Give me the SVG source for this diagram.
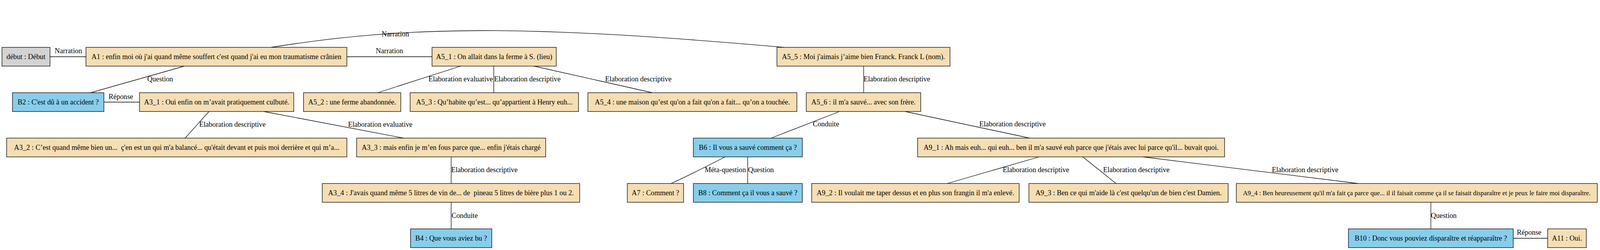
<svg xmlns="http://www.w3.org/2000/svg" width="4166" height="639" viewBox="0 0 4166 639">
<style>
.n rect{stroke:#000;stroke-width:1.3}
.a rect{fill:#f5deb3}
.b rect{fill:#87ceeb}
.g rect{fill:#d3d3d3}
text{font-family:"Liberation Serif","Times New Roman",serif;font-size:18.3px;fill:#000}
.n text{text-anchor:middle}
#edges path,#edges line{stroke:#000;stroke-width:1.3;fill:none}
</style>
<rect width="4166" height="639" fill="#fff"/>
<g id="edges">
<line x1="128" y1="145" x2="220" y2="145"/>
<text x="140" y="136">Narration</text>
<line x1="472" y1="169" x2="232" y2="237"/>
<text x="377" y="208">Question</text>
<line x1="888" y1="145" x2="1106" y2="145"/>
<text x="962" y="136">Narration</text>
<path d="M694,121 C1052,64 1354,64 2007,121"/>
<text x="977" y="93">Narration</text>
<line x1="266" y1="261" x2="357" y2="261"/>
<text x="278" y="253">Réponse</text>
<line x1="535" y1="285" x2="474" y2="353"/>
<text x="510" y="324">Elaboration descriptive</text>
<line x1="675" y1="285" x2="1033" y2="353"/>
<text x="891" y="324">Elaboration evaluative</text>
<line x1="1155" y1="401" x2="1155" y2="469"/>
<text x="1155" y="440">Elaboration descriptive</text>
<line x1="1155" y1="517" x2="1155" y2="585"/>
<text x="1156" y="557">Conduite</text>
<line x1="1179" y1="169" x2="967" y2="237"/>
<text x="1097" y="208">Elaboration evaluative</text>
<line x1="1264" y1="169" x2="1264" y2="237"/>
<text x="1265" y="208">Elaboration descriptive</text>
<line x1="1367" y1="169" x2="1670" y2="237"/>
<text x="1549" y="208">Elaboration descriptive</text>
<line x1="2211" y1="169" x2="2211" y2="237"/>
<text x="2211" y="208">Elaboration descriptive</text>
<line x1="2149" y1="285" x2="1974" y2="353"/>
<text x="2081" y="323">Conduite</text>
<line x1="2317" y1="285" x2="2636" y2="353"/>
<text x="2507" y="323">Elaboration descriptive</text>
<path d="M1856,401 C1800,430 1760,450 1718,469"/>
<text x="1804" y="440">Méta-question</text>
<line x1="1914" y1="401" x2="1914" y2="469"/>
<text x="1915" y="440">Question</text>
<line x1="2660" y1="401" x2="2425" y2="469"/>
<text x="2567" y="440">Elaboration descriptive</text>
<line x1="2772" y1="401" x2="2857" y2="469"/>
<text x="2824" y="440">Elaboration descriptive</text>
<line x1="2926" y1="401" x2="3477" y2="469"/>
<text x="3256" y="440">Elaboration descriptive</text>
<line x1="3663" y1="517" x2="3663" y2="585"/>
<text x="3663" y="557">Question</text>
<line x1="3874" y1="609" x2="3962" y2="609"/>
<text x="3883" y="600">Réponse</text>
</g>
<g id="debut" class="n g"><rect x="5" y="121" width="123" height="48"/><text x="66.5" y="151">début : Début</text></g>
<g id="A1" class="n a"><rect x="220" y="121" width="668" height="48"/><text x="554" y="151">A1 : enfin moi où j'ai quand même souffert c'est quand j'ai eu mon traumatisme crânien</text></g>
<g id="A5_1" class="n a"><rect x="1106" y="121" width="318" height="48"/><text x="1265" y="151">A5_1 : On allait dans la ferme à S. (lieu)</text></g>
<g id="A5_5" class="n a"><rect x="1989" y="121" width="443" height="48"/><text x="2210.5" y="151">A5_5 : Moi j'aimais j’aime bien Franck. Franck L (nom).</text></g>
<g id="B2" class="n b"><rect x="32" y="237" width="234" height="48"/><text x="149" y="267">B2 : C'est dû à un accident ?</text></g>
<g id="A3_1" class="n a"><rect x="357" y="237" width="395" height="48"/><text x="554.5" y="267">A3_1 : Oui enfin on m’avait pratiquement culbuté.</text></g>
<g id="A5_2" class="n a"><rect x="777" y="237" width="249" height="48"/><text x="901.5" y="267">A5_2 : une ferme abandonnée.</text></g>
<g id="A5_3" class="n a"><rect x="1050" y="237" width="431" height="48"/><text x="1265.5" y="267">A5_3 : Qu’habite qu’est... qu’appartient à Henry euh...</text></g>
<g id="A5_4" class="n a"><rect x="1505" y="237" width="535" height="48"/><text x="1772.5" y="267">A5_4 : une maison qu’est qu'on a fait qu'on a fait... qu’on a touchée.</text></g>
<g id="A5_6" class="n a"><rect x="2064" y="237" width="293" height="48"/><text x="2210.5" y="267">A5_6 : il m'a sauvé... avec son frère.</text></g>
<g id="A3_2" class="n a"><rect x="17" y="353" width="871" height="48"/><text x="452.5" y="383" xml:space="preserve">A3_2 : C’est quand même bien un...  ç'en est un qui m'a balancé... qu'était devant et puis moi derrière et qui m’a...</text></g>
<g id="A3_3" class="n a"><rect x="913" y="353" width="484" height="48"/><text x="1155" y="383">A3_3 : mais enfin je m’en fous parce que... enfin j'étais chargé</text></g>
<g id="B6" class="n b"><rect x="1775" y="353" width="279" height="48"/><text x="1914.5" y="383">B6 : Il vous a sauvé comment ça ?</text></g>
<g id="A9_1" class="n a"><rect x="2349" y="353" width="786" height="48"/><text x="2742" y="383">A9_1 : Ah mais euh... qui euh... ben il m'a sauvé euh parce que j'étais avec lui parce qu'il... buvait quoi.</text></g>
<g id="A3_4" class="n a"><rect x="825" y="469" width="659" height="48"/><text x="1154.5" y="499" xml:space="preserve">A3_4 : J'avais quand même 5 litres de vin de... de  pineau 5 litres de bière plus 1 ou 2.</text></g>
<g id="A7" class="n a"><rect x="1606" y="469" width="144" height="48"/><text x="1678" y="499">A7 : Comment ?</text></g>
<g id="B8" class="n b"><rect x="1775" y="469" width="279" height="48"/><text x="1914.5" y="499">B8 : Comment ça il vous a sauvé ?</text></g>
<g id="A9_2" class="n a"><rect x="2078" y="469" width="531" height="48"/><text x="2343.5" y="499">A9_2 : Il voulait me taper dessus et en plus son frangin il m'a enlevé.</text></g>
<g id="A9_3" class="n a"><rect x="2634" y="469" width="510" height="48"/><text x="2889" y="499">A9_3 : Ben ce qui m'aide là c'est quelqu'un de bien c'est Damien.</text></g>
<g id="A9_4" class="n a"><rect x="3165" y="469" width="924" height="48"/><text x="3627" y="498.5" style="font-size:16.8px">A9_4 : Ben heureusement qu'il m'a fait ça parce que... il il faisait comme ça il se faisait disparaître et je peux le faire moi disparaître.</text></g>
<g id="B4" class="n b"><rect x="1051" y="585" width="208" height="48"/><text x="1155" y="615">B4 : Que vous aviez bu ?</text></g>
<g id="B10" class="n b"><rect x="3452" y="585" width="422" height="48"/><text x="3663" y="615">B10 : Donc vous pouviez disparaître et réapparaître ?</text></g>
<g id="A11" class="n a"><rect x="3962" y="585" width="99" height="48"/><text x="4011.5" y="615">A11 : Oui.</text></g>
</svg>
